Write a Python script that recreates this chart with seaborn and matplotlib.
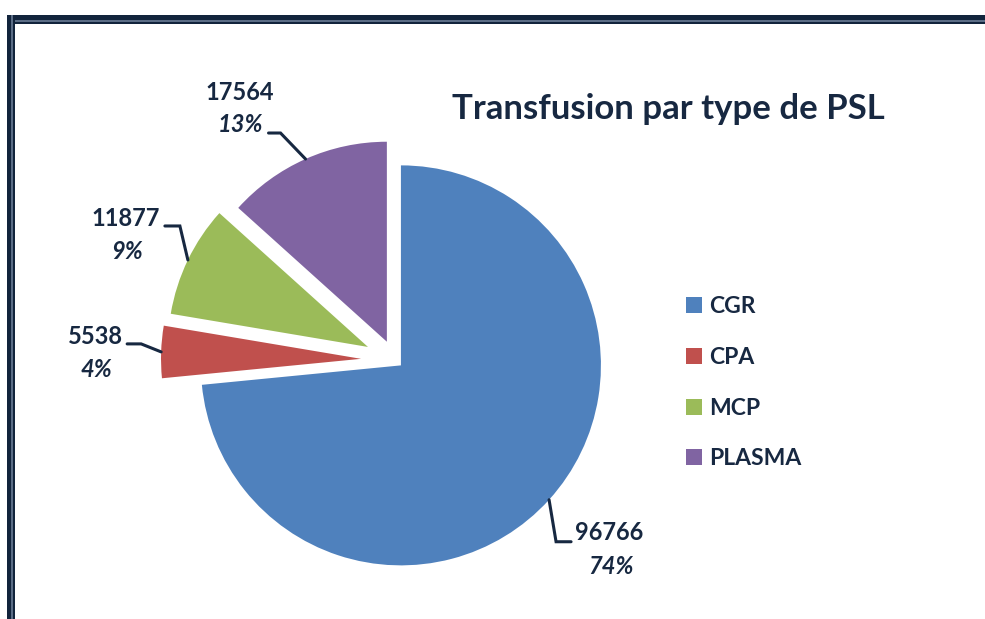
import numpy as np
import matplotlib
matplotlib.use("Agg")
import matplotlib.pyplot as plt
from matplotlib.lines import Line2D
from matplotlib.patches import Patch
import seaborn as sns

# --- Data ---
categories = ["CGR", "CPA", "MCP", "PLASMA"]
counts = [96766, 5538, 11877, 17564]
pct_labels = ["74%", "4%", "9%", "13%"]
explode = [0.04, 0.17, 0.15, 0.10]
colors = ["#4F81BD", "#C0504D", "#9BBB59", "#8064A2"]
title = "Transfusion par type de PSL"

# leader line / label offsets in pixels from the wedge anchor (x right, y down)
label_offsets = {
    "CGR":    {"elbow": (7, 42),   "end": (22, 42),   "val": (60, 33),   "pct": (62, 67)},
    "CPA":    {"elbow": (-20, -8), "end": (-34, -8),  "val": (-66, -15), "pct": (-65, 18)},
    "MCP":    {"elbow": (-8, -34), "end": (-23, -34), "val": (-62, -41), "pct": (-61, -8)},
    "PLASMA": {"elbow": (-25, -26), "end": (-37, -26), "val": (-66, -67), "pct": (-65, -35)},
}

TEXT = "#172841"
FRAME_DARK = "#12243c"
FRAME_LIGHT = "#5b6d86"

sns.set_theme(style="white")
plt.rcParams["font.family"] = ["Lato", "DejaVu Sans"]

W, H = 985, 619
fig = plt.figure(figsize=(W / 100, H / 100), dpi=100)
fig.patch.set_facecolor("white")

# pie axes: radius 1 -> ~200 px, centre at (395, 360)
ax = fig.add_axes([145 / W, 1 - 610 / H, 500 / W, 500 / H])
wedges, _ = ax.pie(counts, explode=explode, colors=colors, startangle=90,
                   counterclock=False, radius=1.0,
                   wedgeprops=dict(linewidth=0))
ax.set_xlim(-1.25, 1.25)
ax.set_ylim(-1.25, 1.25)
ax.set_aspect("equal")
ax.axis("off")

px = 72 / fig.dpi  # pixels -> points
for w, cat, n, pct in zip(wedges, categories, counts, pct_labels):
    mid = np.deg2rad((w.theta1 + w.theta2) / 2)
    cx, cy = w.center
    ax_x, ax_y = cx + np.cos(mid), cy + np.sin(mid)
    off = label_offsets[cat]
    pts = [(0, 0), off["elbow"], off["end"]]
    # leader path in display space
    base = ax.transData.transform((ax_x, ax_y))
    disp = [(base[0] + dx, base[1] - dy) for dx, dy in pts]
    fig.add_artist(Line2D([p[0] for p in disp], [p[1] for p in disp],
                          transform=None, color=TEXT, lw=2.2,
                          solid_joinstyle="miter"))
    vx, vy = off["val"]
    ax.annotate(f"{n}", (ax_x, ax_y), xytext=(vx * px, -vy * px),
                textcoords="offset points", ha="center", va="center",
                fontsize=17, fontweight="bold", color=TEXT)
    qx, qy = off["pct"]
    ax.annotate(pct, (ax_x, ax_y), xytext=(qx * px, -qy * px),
                textcoords="offset points", ha="center", va="center",
                fontsize=17, fontweight="bold", fontstyle="italic", color=TEXT)

# title
fig.text(668 / W, 1 - 119 / H, title, ha="center", va="baseline",
         fontsize=25, fontweight="bold", color=TEXT)

# legend
handles = [Patch(facecolor=c, edgecolor="none") for c in colors]
leg = fig.legend(handles, categories, loc="upper left",
                 bbox_to_anchor=(686 / W, 1 - 296 / H), frameon=False,
                 prop={"size": 16.5, "weight": "bold"},
                 handlelength=0.7, handleheight=0.7,
                 handletextpad=0.3, labelspacing=1.3, borderpad=0,
                 borderaxespad=0)
for t in leg.get_texts():
    t.set_color(TEXT)

# frame on the left and top edges
def hline(y0, y1, color):
    fig.add_artist(plt.Rectangle((7 / W, 1 - y1 / H), 1, (y1 - y0) / H,
                                 transform=fig.transFigure, color=color, lw=0))

def vline(x0, x1, color):
    fig.add_artist(plt.Rectangle((x0 / W, 0), (x1 - x0) / W, 1 - 15 / H,
                                 transform=fig.transFigure, color=color, lw=0))

hline(15, 24, FRAME_DARK)
hline(20, 22, FRAME_LIGHT)
vline(7, 15, FRAME_DARK)
vline(11, 13, FRAME_LIGHT)
fig.add_artist(plt.Rectangle((13 / W, 1 - 24 / H), 1, 2 / H,
                             transform=fig.transFigure, color=FRAME_DARK, lw=0))

fig.savefig("out.png", dpi=100, facecolor="white")
